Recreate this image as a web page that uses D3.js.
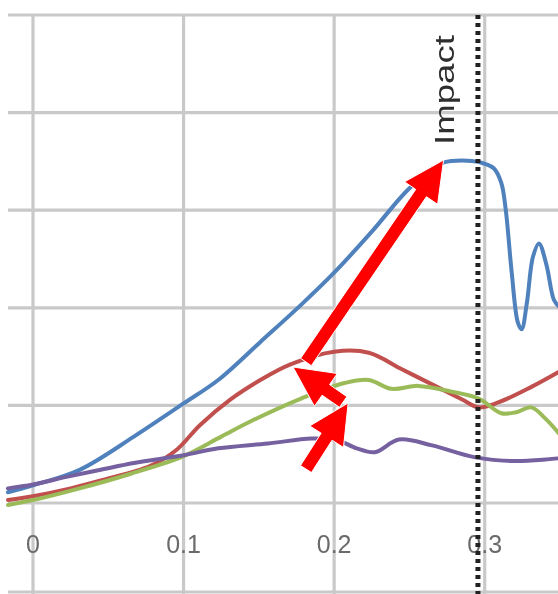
<!DOCTYPE html>
<html>
<head>
<meta charset="utf-8">
<script src="https://cdn.jsdelivr.net/npm/d3@7"></script>
<style>
  html, body { margin: 0; padding: 0; background: #ffffff; }
  svg { display: block; }
</style>
</head>
<body>
<div id="chart"></div>
<script>
// ---- data ----
const xTicks = [0, 0.1, 0.2, 0.3];
const xTickLabels = ["0", "0.1", "0.2", "0.3"];
const yGrid = [0, 1, 2, 3, 4, 5];

const blueSeries = [
  [-0.0166, 0.11], [0, 0.18], [0.031, 0.34], [0.067, 0.68], [0.1, 1.02], [0.123, 1.26],
  [0.151, 1.65], [0.178, 2.03], [0.2, 2.36], [0.225, 2.78], [0.249, 3.21], [0.265, 3.41],
  [0.273, 3.49], [0.285, 3.51], [0.297, 3.49], [0.306, 3.43], [0.311, 3.28], [0.314, 3.0],
  [0.318, 2.35], [0.322, 1.85], [0.3245, 1.78], [0.328, 2.05], [0.332, 2.52], [0.336, 2.66],
  [0.341, 2.44], [0.346, 2.08], [0.35, 2.0]
];
const redSeries = [
  [-0.0166, 0.03], [0, 0.07], [0.025, 0.15], [0.045, 0.23], [0.078, 0.38], [0.095, 0.54],
  [0.111, 0.80], [0.131, 1.06], [0.151, 1.26], [0.171, 1.42], [0.2, 1.55], [0.223, 1.54],
  [0.245, 1.37], [0.267, 1.20], [0.285, 1.06], [0.296, 0.98], [0.309, 1.03], [0.331, 1.19],
  [0.35, 1.35]
];
const greenSeries = [
  [-0.0166, -0.02], [0, 0.03], [0.031, 0.15], [0.065, 0.30], [0.1, 0.48], [0.125, 0.68],
  [0.145, 0.84], [0.178, 1.07], [0.207, 1.23], [0.223, 1.26], [0.238, 1.17], [0.256, 1.20],
  [0.278, 1.14], [0.296, 1.07], [0.311, 0.92], [0.321, 0.93], [0.331, 0.98], [0.34, 0.87],
  [0.35, 0.70]
];
const purpleSeries = [
  [-0.0166, 0.15], [0, 0.19], [0.023, 0.27], [0.045, 0.34], [0.067, 0.41], [0.1, 0.49],
  [0.123, 0.56], [0.156, 0.61], [0.185, 0.66], [0.201, 0.65], [0.215, 0.56], [0.227, 0.52],
  [0.243, 0.65], [0.265, 0.59], [0.293, 0.47], [0.32, 0.43], [0.35, 0.46]
];

const impactX = 0.2955;
const impactLabel = "Impact";

// arrows: [tailX, tailY, tipX, tipY] in data units
const arrows = [
  [0.1813, 1.445, 0.2727, 3.514],
  [0.2060, 1.035, 0.1727, 1.393],
  [0.1813, 0.348, 0.2093, 1.025]
];

// ---- drawing ----
const W = 558, H = 594;
const svg = d3.select("#chart").append("svg").attr("width", W).attr("height", H);
const defs = svg.append("defs");
defs.append("filter").attr("id", "soft")
  .attr("x", "-5%").attr("y", "-5%").attr("width", "110%").attr("height", "110%")
  .append("feGaussianBlur").attr("stdDeviation", 0.7);

const root = svg.append("g").attr("filter", "url(#soft)");
root.append("rect").attr("width", W).attr("height", H).attr("fill", "#ffffff");

const x = d3.scaleLinear().domain([-0.0166, 0.35]).range([8, 560]);
const y = d3.scaleLinear().domain([0, 5]).range([503, 15]);

const gridColor = "#c9c9c9";

// horizontal gridlines
root.append("g").selectAll("line").data(yGrid).join("line")
  .attr("x1", 8).attr("x2", W)
  .attr("y1", d => y(d)).attr("y2", d => y(d))
  .attr("stroke", gridColor).attr("stroke-width", 3.2);

// bottom border
root.append("line").attr("x1", 8).attr("x2", W).attr("y1", H - 2).attr("y2", H - 2)
  .attr("stroke", gridColor).attr("stroke-width", 3);

// vertical gridlines
root.append("g").selectAll("line").data(xTicks).join("line")
  .attr("x1", d => x(d)).attr("x2", d => x(d))
  .attr("y1", y(5)).attr("y2", H)
  .attr("stroke", gridColor).attr("stroke-width", 3.2);

// tick labels
root.append("g").selectAll("text").data(xTicks).join("text")
  .attr("x", d => x(d)).attr("y", 553)
  .attr("text-anchor", "middle")
  .attr("font-family", "Liberation Sans, Arial, sans-serif")
  .attr("font-size", 25)
  .attr("fill", "#6a6a6a")
  .text((d, i) => xTickLabels[i]);

// series lines
const line = d3.line().x(d => x(d[0])).y(d => y(d[1])).curve(d3.curveCatmullRom.alpha(0.5));
const series = [
  { data: blueSeries, color: "#4f81bd" },
  { data: redSeries, color: "#c0504d" },
  { data: greenSeries, color: "#9bbb59" },
  { data: purpleSeries, color: "#7460a0" }
];
root.append("g").selectAll("path").data(series).join("path")
  .attr("d", d => line(d.data))
  .attr("fill", "none")
  .attr("stroke", d => d.color)
  .attr("stroke-width", 4)
  .attr("stroke-linejoin", "round")
  .attr("stroke-linecap", "round");

// impact dotted line
root.append("line")
  .attr("x1", x(impactX)).attr("x2", x(impactX))
  .attr("y1", y(5)).attr("y2", H)
  .attr("stroke", "#222").attr("stroke-width", 5)
  .attr("stroke-dasharray", "4,4");

// impact label
const lx = x(impactX) - 24, ly = 145;
root.append("text")
  .attr("transform", `translate(${lx},${ly}) rotate(-90)`)
  .attr("font-family", "Liberation Sans, Arial, sans-serif")
  .attr("font-size", 27)
  .attr("fill", "#2e2e2e")
  .attr("textLength", 110)
  .attr("lengthAdjust", "spacingAndGlyphs")
  .text(impactLabel);

// arrows
function arrowPath(a) {
  const x0 = x(a[0]), y0 = y(a[1]), x1 = x(a[2]), y1 = y(a[3]);
  const dx = x1 - x0, dy = y1 - y0, L = Math.hypot(dx, dy);
  const ux = dx / L, uy = dy / L, nx = -uy, ny = ux;
  const headLen = 40, headHalf = 20, shaftHalf = 6.5;
  const bx = x1 - ux * headLen, by = y1 - uy * headLen;
  const pts = [
    [x0 + nx * shaftHalf, y0 + ny * shaftHalf],
    [bx + nx * shaftHalf, by + ny * shaftHalf],
    [bx + nx * headHalf, by + ny * headHalf],
    [x1, y1],
    [bx - nx * headHalf, by - ny * headHalf],
    [bx - nx * shaftHalf, by - ny * shaftHalf],
    [x0 - nx * shaftHalf, y0 - ny * shaftHalf]
  ];
  return "M" + pts.map(p => p.join(",")).join("L") + "Z";
}
root.append("g").selectAll("path").data(arrows).join("path")
  .attr("d", arrowPath)
  .attr("fill", "#ff0000")
  .attr("stroke", "#ffffff").attr("stroke-width", 1);
</script>
</body>
</html>
